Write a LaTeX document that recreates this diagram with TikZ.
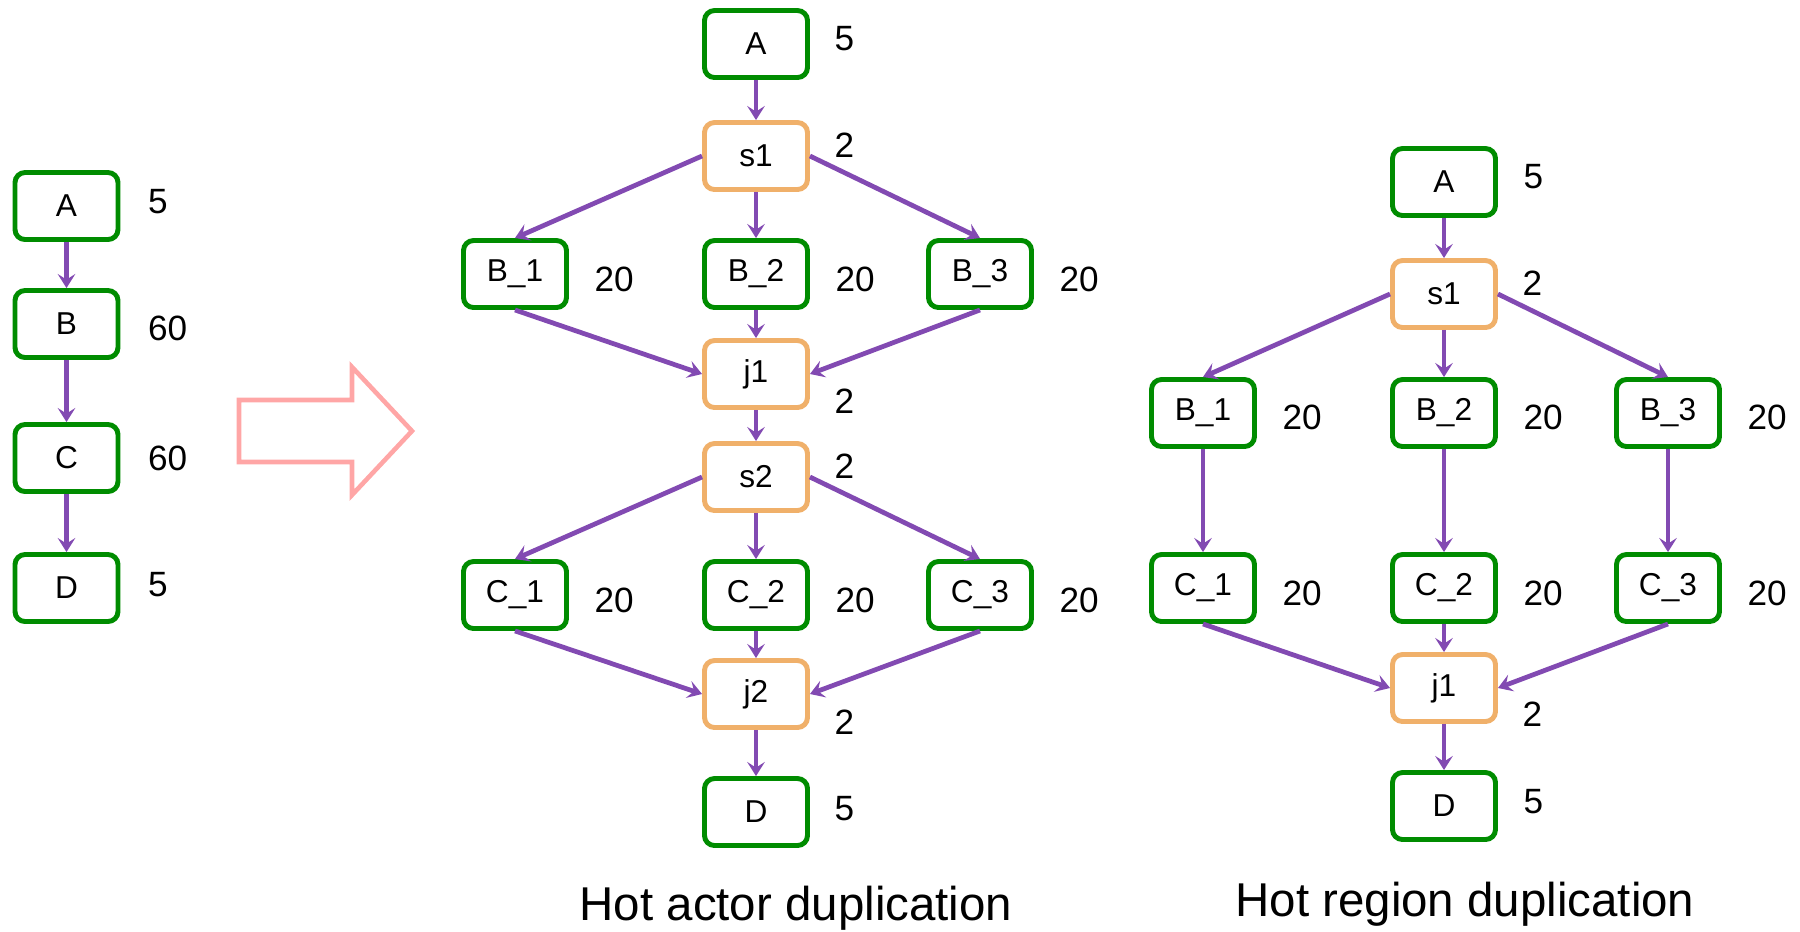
\documentclass[tikz,border=0pt]{standalone}
\usepackage{fontspec}
\setmainfont{Liberation Sans}
\usetikzlibrary{arrows.meta,positioning}

\definecolor{actgreen}{RGB}{0,140,0}
\definecolor{ctrlorange}{RGB}{240,176,106}
\definecolor{flowpurple}{RGB}{130,74,178}
\definecolor{bigarrow}{RGB}{255,166,166}

\tikzset{
  actor/.style={draw=actgreen,line width=1.4pt,rounded corners=0.1cm,fill=white,
    minimum width=1.03cm,minimum height=0.67cm,font=\fontsize{9}{10}\selectfont},
  ctrl/.style={actor,draw=ctrlorange},
  num/.style={inner sep=0pt,font=\fontsize{10}{12}\selectfont},
  captxt/.style={inner sep=0pt,anchor=base,font=\fontsize{13.5}{16}\selectfont},
  flow/.style={flowpurple,line width=1.35pt}
}

\begin{document}
\begin{tikzpicture}[>={Stealth[length=4pt,width=5pt,inset=1.6pt]}]
\useasboundingbox (0,0) rectangle (18,-9.31);

% original pipeline
\node[actor] (A) at (0.665,-2.06) {A};
\node[actor] (B) [below of=A,node distance=1.18cm] {B};
\node[actor] (C) [below of=B,node distance=1.34cm] {C};
\node[actor] (D) [below of=C,node distance=1.30cm] {D};

\node[num] (nA) [right=0.27cm of A,yshift=0.04cm] {5};
\node[num] (nB) [right=0.27cm of B,yshift=-0.04cm] {60};
\node[num] (nC) [right=0.27cm of C] {60};
\node[num] (nD) [right=0.27cm of D,yshift=0.03cm] {5};

\path[->,flow] (A) edge (B)
               (B) edge (C)
               (C) edge (D);

\draw[bigarrow,line width=1.3pt] (2.39,-4.00) -- (3.52,-4.00) -- (3.52,-3.67) -- (4.12,-4.31)
  -- (3.52,-4.95) -- (3.52,-4.62) -- (2.39,-4.62) -- cycle;

% hot actor duplication
\node[actor] (mA) at (7.56,-0.44) {A};
\node[ctrl]  (ms1) [below of=mA,node distance=1.12cm] {s1};
\node[actor] (mB2) [below of=ms1,node distance=1.18cm] {B\_2};
\node[actor] (mB1) [left of=mB2,node distance=2.41cm] {B\_1};
\node[actor] (mB3) [right of=mB2,node distance=2.24cm] {B\_3};
\node[ctrl]  (mj1) [below of=mB2,node distance=1.0cm] {j1};
\node[ctrl]  (ms2) [below of=mj1,node distance=1.03cm] {s2};
\node[actor] (mC2) [below of=ms2,node distance=1.18cm] {C\_2};
\node[actor] (mC1) [left of=mC2,node distance=2.41cm] {C\_1};
\node[actor] (mC3) [right of=mC2,node distance=2.24cm] {C\_3};
\node[ctrl]  (mj2) [below of=mC2,node distance=0.99cm] {j2};
\node[actor] (mD) [below of=mj2,node distance=1.18cm] {D};

\node[num] (nmA) [right=0.24cm of mA,yshift=0.05cm] {5};
\node[num] (nms1) [right=0.24cm of ms1,yshift=0.11cm] {2};
\node[num] (nmB1) [right=0.25cm of mB1,yshift=-0.05cm] {20};
\node[num] (nmB2) [right=0.25cm of mB2,yshift=-0.05cm] {20};
\node[num] (nmB3) [right=0.25cm of mB3,yshift=-0.05cm] {20};
\node[num] (nmj1) [right=0.24cm of mj1,yshift=-0.27cm] {2};
\node[num] (nms2) [right=0.24cm of ms2,yshift=0.11cm] {2};
\node[num] (nmC1) [right=0.25cm of mC1,yshift=-0.05cm] {20};
\node[num] (nmC2) [right=0.25cm of mC2,yshift=-0.05cm] {20};
\node[num] (nmC3) [right=0.25cm of mC3,yshift=-0.05cm] {20};
\node[num] (nmj2) [right=0.24cm of mj2,yshift=-0.28cm] {2};
\node[num] (nmD) [right=0.24cm of mD,yshift=0.03cm] {5};

\path[->,flow] (mA) edge (ms1)
               (ms1.west) edge (mB1.north)
               (ms1) edge (mB2)
               (ms1.east) edge (mB3.north)
               (mB1.south) edge (mj1.west)
               (mB2) edge (mj1)
               (mB3.south) edge (mj1.east)
               (mj1) edge (ms2)
               (ms2.west) edge (mC1.north)
               (ms2) edge (mC2)
               (ms2.east) edge (mC3.north)
               (mC1.south) edge (mj2.west)
               (mC2) edge (mj2)
               (mC3.south) edge (mj2.east)
               (mj2) edge (mD);

\node[captxt] (capA) at (7.96,-9.20) {Hot actor duplication};

% hot region duplication
\node[actor] (rA) at (14.44,-1.82) {A};
\node[ctrl]  (rs1) [below of=rA,node distance=1.12cm] {s1};
\node[actor] (rB2) [below of=rs1,node distance=1.19cm] {B\_2};
\node[actor] (rB1) [left of=rB2,node distance=2.41cm] {B\_1};
\node[actor] (rB3) [right of=rB2,node distance=2.24cm] {B\_3};
\node[actor] (rC2) [below of=rB2,node distance=1.75cm] {C\_2};
\node[actor] (rC1) [left of=rC2,node distance=2.41cm] {C\_1};
\node[actor] (rC3) [right of=rC2,node distance=2.24cm] {C\_3};
\node[ctrl]  (rj1) [below of=rC2,node distance=1.0cm] {j1};
\node[actor] (rD) [below of=rj1,node distance=1.18cm] {D};

\node[num] (nrA) [right=0.25cm of rA,yshift=0.05cm] {5};
\node[num] (nrs1) [right=0.24cm of rs1,yshift=0.11cm] {2};
\node[num] (nrB1) [right=0.25cm of rB1,yshift=-0.04cm] {20};
\node[num] (nrB2) [right=0.25cm of rB2,yshift=-0.04cm] {20};
\node[num] (nrB3) [right=0.25cm of rB3,yshift=-0.04cm] {20};
\node[num] (nrC1) [right=0.25cm of rC1,yshift=-0.05cm] {20};
\node[num] (nrC2) [right=0.25cm of rC2,yshift=-0.05cm] {20};
\node[num] (nrC3) [right=0.25cm of rC3,yshift=-0.05cm] {20};
\node[num] (nrj1) [right=0.24cm of rj1,yshift=-0.26cm] {2};
\node[num] (nrD) [right=0.25cm of rD,yshift=0.04cm] {5};

\path[->,flow] (rA) edge (rs1)
               (rs1.west) edge (rB1.north)
               (rs1) edge (rB2)
               (rs1.east) edge (rB3.north)
               (rB1) edge (rC1)
               (rB2) edge (rC2)
               (rB3) edge (rC3)
               (rC1.south) edge (rj1.west)
               (rC2) edge (rj1)
               (rC3.south) edge (rj1.east)
               (rj1) edge (rD);

\node[captxt] (capR) at (14.65,-9.16) {Hot region duplication};

\end{tikzpicture}
\end{document}
